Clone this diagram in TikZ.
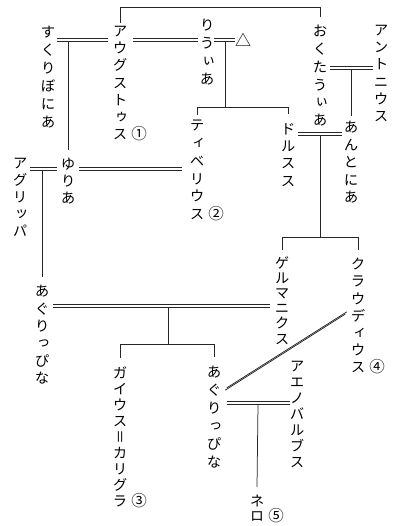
\documentclass[tikz,border=0pt]{standalone}
\usepackage{fontspec}
\newfontfamily\jp[RawFeature=+vert]{Noto Sans CJK JP}
\newfontfamily\jpn{Noto Sans CJK JP}
\newcommand\circnum[1]{\rlap{\hspace{4pt}\jpn\fontsize{15.5}{15.5}\selectfont#1}}
\newcommand\dl[2]{%
  \draw[ln] ([yshift=1.25pt]#1) -- ([yshift=1.25pt]#2);
  \draw[ln] ([yshift=-1.25pt]#1) -- ([yshift=-1.25pt]#2);}
\begin{document}
\begin{tikzpicture}[x=1pt,y=-1pt]
\tikzset{
  vt/.style={anchor=north, inner sep=0pt, align=center, font=\jp\fontsize{14.5}{#1}\selectfont},
  vt/.default=17.4,
  ln/.style={line width=0.75pt, draw=black!85},
}
\useasboundingbox (0,0) rectangle (404,526);
% people
\node[vt=18]   (sukuri)   at (48,26)  {す\\く\\り\\ぼ\\に\\あ};
\node[vt=17.2] (augustus) at (120,26) {ア\\ウ\\グ\\ス\\ト\\ゥ\\ス\circnum{①}};
\node[vt=18]   (livia)    at (207,19) {り\\う\\ぃ\\あ};
\node[vt]      (tri)      at (243,33) {\fontsize{16}{16}\selectfont △};
\node[vt=17.8] (octavia)  at (320,25) {お\\く\\た\\う\\ぃ\\あ};
\node[vt=17.2] (antonius) at (381,25) {ア\\ン\\ト\\ニ\\ウ\\ス};
\node[vt=17.8] (tiberius) at (197,120){テ\\ィ\\ベ\\リ\\ウ\\ス\circnum{②}};
\node[vt=17.3] (drusus)   at (288,123){ド\\ル\\ス\\ス};
\node[vt=17.5] (antonia)  at (351,121){あ\\ん\\と\\に\\あ};
\node[vt=17]   (julia)    at (68,158) {ゆ\\り\\あ};
\node[vt=17]   (agrippa)  at (20,158) {ア\\グ\\リ\\ッ\\パ};
\node[vt=17.4] (agr1)     at (42,285) {あ\\ぐ\\り\\っ\\ぴ\\な};
\node[vt=15.2] (germ)     at (282,256){ゲ\\ル\\マ\\ニ\\ク\\ス};
\node[vt=17.2] (claud)    at (358,258){ク\\ラ\\ウ\\デ\\ィ\\ウ\\ス\circnum{④}};
\node[vt=15.9] (caligula) at (120,367){ガ\\イ\\ウ\\ス\\＝\\カ\\リ\\グ\\ラ\circnum{③}};
\node[vt=18]   (agr2)     at (214,366){あ\\ぐ\\り\\っ\\ぴ\\な};
\node[vt=16]   (aeno)     at (297,361){ア\\エ\\ノ\\バ\\ル\\ブ\\ス};
\node[vt=15]   (nero)     at (257,495){ネ\\ロ\circnum{⑤}};
% descent lines
\draw[ln] ([yshift=3pt]augustus.north) -- (augustus.north |- 0,7) -| (octavia.north |- 0,17);
\draw[ln] (68,41) -- (julia.north |- 0,150);
\draw[ln] (225,41) -- (225,107);
\draw[ln] (tiberius.north |- 0,115) -- (tiberius.north |- 0,107) -| (drusus.north |- 0,114);
\draw[ln] (351,69) -- (antonia.north |- 0,116);
\draw[ln] (320,135) -- (320,237);
\draw[ln] (germ.north |- 0,250) -- (germ.north |- 0,237) -| (claud.north |- 0,250);
\draw[ln] (42,170) -- (agr1.north |- 0,277);
\draw[ln] (168,307) -- (168,344);
\draw[ln] (caligula.north |- 0,358) -- (caligula.north |- 0,344) -| (agr2.north |- 0,357);
\draw[ln] (258,404) -- (nero.north |- 0,487);
% marriages
\dl{57,40}{108,40}
\dl{133,40}{198,40}
\dl{214,40}{235,40}
\dl{330,68}{373,68}
\dl{298,134}{342,134}
\dl{30,169}{57,169}
\dl{79,169}{182,169}
\dl{53,306}{270,306}
\draw[ln] ([shift={(0.7pt,1.1pt)}]346,313) -- ([shift={(0.7pt,1.1pt)}]226,389);
\draw[ln] ([shift={(-0.7pt,-1.1pt)}]346,313) -- ([shift={(-0.7pt,-1.1pt)}]226,389);
\dl{227,403}{290,403}
\end{tikzpicture}
\end{document}
